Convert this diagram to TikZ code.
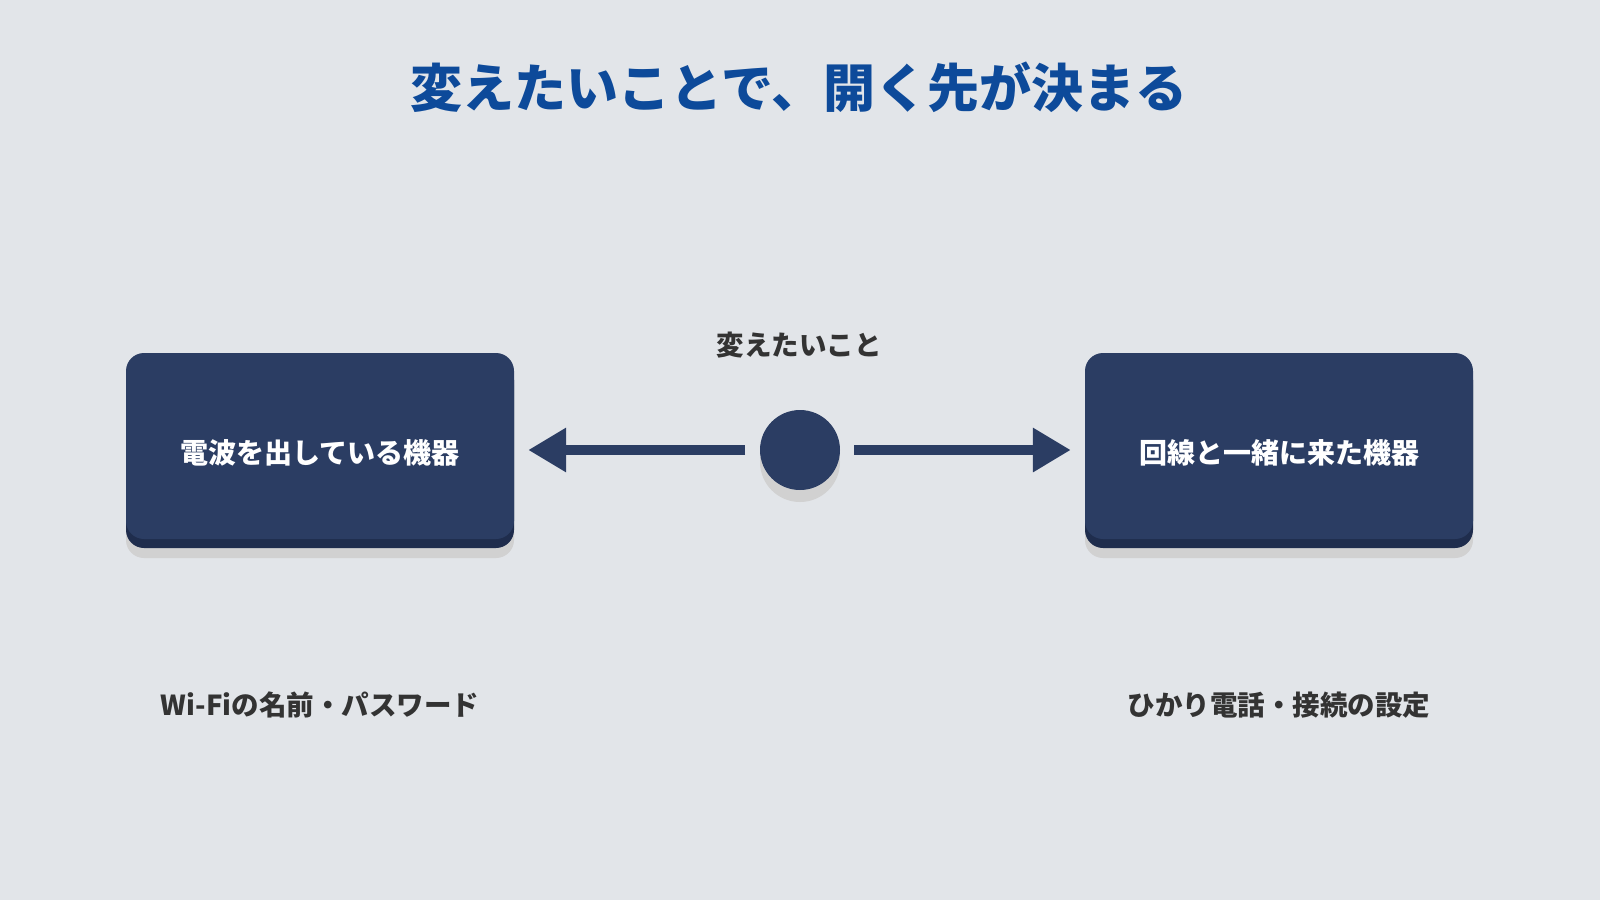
\documentclass[tikz,border=0pt]{standalone}
\usepackage{fontspec}
\newfontfamily\cjk{Noto Sans CJK JP}
\usetikzlibrary{arrows.meta}
\definecolor{bgcol}{HTML}{E2E5E9}
\definecolor{boxcol}{HTML}{2B3D63}
\definecolor{rimcol}{HTML}{1F2D4D}
\definecolor{titlecol}{HTML}{0D4A9A}
\definecolor{textcol}{HTML}{333333}
\tikzset{
    device/.style={fill=boxcol, rounded corners=18, minimum width=388, minimum height=186, text=white, font=\cjk\bfseries\fontsize{28}{32}\selectfont},
    note/.style={text=textcol, font=\cjk\bfseries\fontsize{27.5}{32}\selectfont},
    link/.style={boxcol, line width=10, -{Triangle[length=38,width=42]}}
}
\begin{document}
\begin{tikzpicture}[x=1pt,y=-1pt]
    \fill[bgcol] (0,0) rectangle (1600,900);
    \useasboundingbox (0,0) rectangle (1600,900);

    \node (title) at (799,87) [text=titlecol, font=\cjk\bfseries\fontsize{52}{60}\selectfont] {変えたいことで、開く先が決まる};

    % shadows and rims
    \foreach \x in {320,1279}{
        \fill[black!18, rounded corners=18] (\x-194,367) rectangle (\x+194,558);
        \fill[rimcol, rounded corners=18] (\x-194,362) rectangle (\x+194,548);
    }
    \fill[black!18] (800,462) circle (40);

    \node[device] (wifi) at (320,446) {};
    \node[device] (line) at (1279,446) {};
    \node[text=white, font=\cjk\bfseries\fontsize{28}{32}\selectfont] (wifilabel) at (320,453) {電波を出している機器};
    \node[text=white, font=\cjk\bfseries\fontsize{28}{32}\selectfont] (linelabel) at (1279,453) {回線と一緒に来た機器};
    \node[circle, fill=boxcol, minimum size=80] (hub) at (800,450) {};

    \node[note] (change) at (799,345) {変えたいこと};
    \node[note] (wifinote) at (320,705) {Wi-Fiの名前・パスワード};
    \node[note] (linenote) at (1279,705) {ひかり電話・接続の設定};

    \draw[link] (745,450) -- ([xshift=14]wifi.east |- hub);
    \draw[link] (854,450) -- ([xshift=-14]line.west |- hub);
\end{tikzpicture}
\end{document}
